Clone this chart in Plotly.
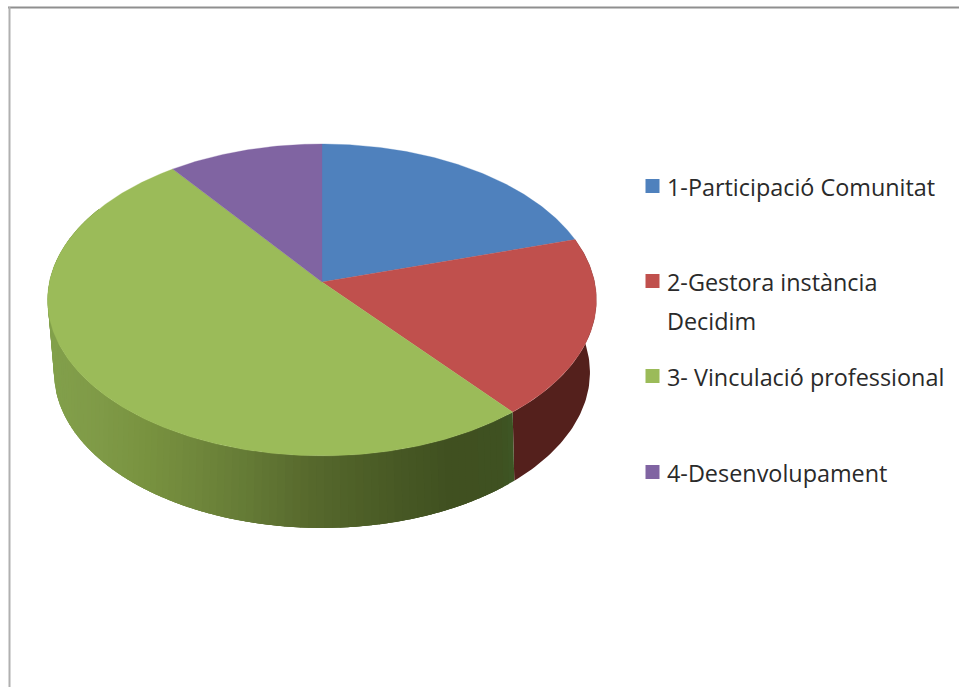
import math
import plotly.graph_objects as go

# --- data ---
categories = ["1-Participació Comunitat", "2-Gestora instància", "3- Vinculació professional", "4-Desenvolupament"]
second_lines = ["", "Decidim", "", ""]
values = [20.4, 18.6, 50.8, 10.2]

# --- styles ---
top_colors = ["#4f81bd", "#c0504d", "#9bbb59", "#8064a2"]
side_red = "#54201c"
green_stop_x = [47, 100, 150, 200, 250, 300, 350, 400, 450, 500, 516]
green_stop_rgb = [(130, 160, 75), (127, 154, 71), (120, 146, 63), (111, 134, 59), (100, 122, 53),
                  (89, 107, 46), (79, 97, 40), (71, 88, 36), (64, 80, 32), (63, 81, 33), (61, 88, 38)]
legend_y = [186, 281, 376, 472]
FONT = "Open Sans"
FS = 23.4

# projection of the round pie seen in perspective (pixel-valued axes)
CX, CY = 322, 282
A, B, K = 153.9, 272.6, 0.115
CX2, CY2 = 322, 347.5
A2, B2, K2 = 151.6, 264.5, 0.16


def top_pt(deg):
    a = math.radians(deg)
    u, v = math.sin(a), math.cos(a)
    d = 1 + K * v
    return CX + B * u / d, CY - A * v / d


def bottom_pt(deg):
    a = math.radians(deg)
    u, v = math.sin(a), math.cos(a)
    d = 1 + K2 * v
    return CX2 + B2 * u / d, CY2 - A2 * v / d


def arc(fn, a0, a1, step=1.0):
    n = max(2, int(abs(a1 - a0) / step) + 1)
    return [fn(a0 + (a1 - a0) * i / (n - 1)) for i in range(n)]


def green_at(x):
    for i in range(len(green_stop_x) - 1):
        x0, x1 = green_stop_x[i], green_stop_x[i + 1]
        if x <= x1:
            t = max(0, (x - x0) / (x1 - x0))
            c = [round(p + (q - p) * t) for p, q in zip(green_stop_rgb[i], green_stop_rgb[i + 1])]
            return "rgb(%d,%d,%d)" % tuple(c)
    return "rgb(%d,%d,%d)" % green_stop_rgb[-1]


def poly(pts, color, width=0.0):
    return go.Scatter(x=[p[0] for p in pts] + [pts[0][0]], y=[p[1] for p in pts] + [pts[0][1]],
                      mode="lines", fill="toself", fillcolor=color,
                      line=dict(color=color, width=width), hoverinfo="skip", showlegend=False)


total = sum(values)
edges = [0]
for v in values:
    edges.append(edges[-1] + v / total * 360)

fig = go.Figure()

# side wall of the red slice
a0, a1 = edges[1], edges[2]
fig.add_trace(poly(arc(top_pt, a0, a1) + arc(bottom_pt, a1, a0), side_red))

# side wall of the green slice: overlapping strips, shaded left to right
a0, a1 = edges[2], 300.0
n = 110
for i in range(n):
    s0 = a0 + (a1 - a0) * i / n
    s1 = a0 + (a1 - a0) * (i + 1) / n
    over = min(a1, s1 + 3)
    pts = arc(top_pt, s0, over, 0.5) + arc(bottom_pt, over, s0, 0.5)
    fig.add_trace(poly(pts, green_at(top_pt((s0 + s1) / 2)[0])))

# top faces
for i, name in enumerate(categories):
    pts = [(CX, CY)] + arc(top_pt, edges[i], edges[i + 1], 0.5)
    tr = poly(pts, top_colors[i], 0.3)
    tr.name = name
    fig.add_trace(tr)

# legend keys and labels
for i, name in enumerate(categories):
    fig.add_trace(go.Scatter(x=[652.5], y=[legend_y[i]], mode="markers",
                             marker=dict(symbol="square", size=14, color=top_colors[i]),
                             hoverinfo="skip", showlegend=False))
    fig.add_annotation(x=665, y=legend_y[i] + 1, text=name, showarrow=False, xanchor="left", yanchor="middle",
                       xref="x", yref="y", font=dict(family=FONT, size=FS, color="#2a2a2a"))
    if second_lines[i]:
        fig.add_annotation(x=665, y=legend_y[i] + 40, text=second_lines[i], showarrow=False, xanchor="left",
                           yanchor="middle", xref="x", yref="y", font=dict(family=FONT, size=FS, color="#2a2a2a"))

# outer frame
fig.add_shape(type="line", x0=8, x1=959, y0=7.5, y1=7.5, line=dict(color="#8f8f8f", width=2), layer="below")
fig.add_shape(type="line", x0=9.5, x1=9.5, y0=7, y1=687, line=dict(color="#b0b0b0", width=2), layer="below")

fig.update_layout(width=959, height=687, margin=dict(l=0, r=0, t=0, b=0), paper_bgcolor="white",
                  plot_bgcolor="white", showlegend=False,
                  xaxis=dict(range=[0, 959], visible=False, fixedrange=True),
                  yaxis=dict(range=[687, 0], visible=False, fixedrange=True))

fig.write_html("out.html", config={"displayModeBar": False},
               post_script="document.body.style.margin='0';document.body.style.overflow='hidden';")
